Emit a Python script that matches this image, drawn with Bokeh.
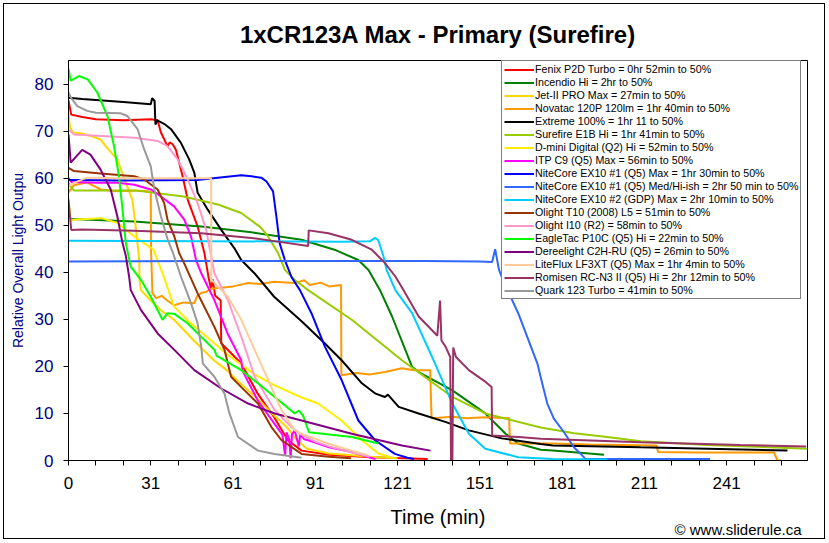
from bokeh.plotting import figure
from bokeh.models import Range1d, FixedTicker, Legend, LegendItem, Title
from bokeh.embed import file_html
from bokeh.resources import INLINE

# ---------------- data (time index in minutes, relative output) ----------------
fenix = [(0, 76.5), (1, 73.5), (5, 73), (10, 72.5), (20, 72.3), (30, 72.5), (32.5, 72.3), (33.7, 69.7),
         (36.1, 66.8), (36.9, 67.6), (38, 67.2), (39.2, 66), (41.6, 60.4), (43.5, 55.4), (47.1, 49.7),
         (49.6, 44), (51.2, 38.5), (52, 36.5), (52.6, 38.5), (53.5, 35), (55.5, 34), (55.7, 24.9),
         (63, 20.6), (69, 14.2), (75, 9.2), (80, 4.3), (85, 2.1), (95, 1.2), (110, 0.7), (131, 0.3)]
incendio = [(0, 52), (1, 51.3), (24, 50.8), (48.4, 49.7), (66.7, 48.5), (85, 46.9), (97, 44.8), (105.7, 42.6),
            (109.4, 40.5), (113.6, 36.2), (118, 30.6), (125.3, 19.9), (127.7, 18.8), (140, 14.9), (152, 10),
            (159.4, 5.7), (164, 3.6), (172.2, 2.3), (176.6, 2.1), (195.3, 1.2)]
jet2 = [(0, 74), (0.5, 71), (1.5, 69.7), (5, 69.5), (8, 69), (11.7, 68.2), (14, 66.5), (17.8, 64), (20, 60.4),
        (23.3, 55.4), (24.5, 49.7), (25.8, 42.6), (25.9, 38.4), (26.4, 36.2), (30, 34), (34, 31.8), (38.5, 29.9),
        (45.7, 25.5), (53, 21.3), (57.9, 19.1), (62.8, 16.3), (68.8, 13.2), (74.9, 9.6), (79.8, 7), (83, 4.5),
        (87, 2.5), (95, 1.5), (110, 0.8), (120, 0.5)]
novatac = [(0, 57), (2, 58.5), (6.8, 59.1), (9, 58.4), (11.7, 57.6), (17.8, 57.2), (24, 57.4), (28.8, 57.2),
           (30, 57), (30.1, 44.8), (30.6, 35.6), (32, 34.5), (34, 35), (36, 34), (38.5, 33), (42, 33.6),
           (45.8, 33.4), (47, 35), (48.4, 35.6), (50, 35.8), (52, 36.5), (55.7, 36.7), (60, 37), (65.5, 37.7),
           (70, 37.5), (75, 38), (82.4, 37.7), (86, 38.3), (88, 37.3), (92, 37.8), (95, 37), (99.4, 37.3),
           (99.5, 18.1), (105, 18.6), (110, 18.3), (115.4, 18.8), (121.6, 19.6), (126, 19.2), (131.9, 19.2),
           (132.4, 9), (140, 9.3), (145, 9), (152, 9.2), (160.7, 9), (161, 3.6), (176.6, 3.6), (190, 3.4),
           (214.5, 3.2), (215, 1.8), (230, 1.7), (257.3, 1.7), (258.5, 0), (260, 0)]
extreme = [(0, 77.1), (5, 76.8), (10, 76.6), (20, 76.2), (30, 75.7), (30.5, 77), (31.4, 76.4), (31.7, 71.4),
           (32.4, 72.3), (35, 71.5), (37.4, 70.4), (41, 67.5), (44, 64), (45.9, 61.1), (47.1, 56.9),
           (50.8, 53.3), (55.7, 49), (60.4, 45.2), (63, 42.6), (67.8, 39.8), (75, 34.8), (85, 29.6),
           (93.4, 24.9), (99.6, 21.3), (107, 16.4), (112, 14.2), (115.4, 13.5), (116.5, 14), (120.4, 11.4),
           (127.7, 10), (137.4, 8.2), (146, 6.4), (158, 4.7), (172.2, 3.5), (176.6, 3.2), (208.7, 2.8),
           (233, 2.5), (262.2, 2.1)]
surefire = [(0, 59), (1, 58), (2, 57.4), (24, 57.4), (42, 56.1), (54.5, 54.4), (63, 52.6), (66.7, 51),
            (70, 49.6), (72.8, 47.6), (76.4, 44.1), (78.9, 40.5), (82.5, 38.4), (87.4, 36.2), (103.3, 29.9),
            (121.6, 21.3), (140, 13.5), (152, 10), (172.2, 7), (184.4, 5.8), (196.5, 5), (208.7, 4.1),
            (233, 3.3), (269.5, 2.5)]
dmini = [(0, 56), (0.7, 51), (3, 51.2), (12, 51.5), (17.8, 50.5), (24, 47.6), (31, 44.8), (34.8, 39),
         (38.5, 32.7), (44, 29.5), (50.6, 26.2), (58, 22.5), (67.6, 18.4), (75, 16), (84.6, 13.5), (91, 12.1),
         (99.6, 8.5), (107, 4.3), (113, 1.5), (118, 0.6)]
itp_c9 = [(0, 60.1), (1, 59.2), (10, 59), (17.8, 59), (24, 58.6), (30, 57.6), (33.7, 56.1), (38.5, 54),
          (42.2, 51.2), (44.7, 47.6), (46.5, 42.6), (48.4, 39.8), (53.2, 34.1), (58, 27), (63, 21.3),
          (63.5, 19), (69, 12.8), (75, 7.9), (78, 5.5), (79, 1), (79.5, 6), (80.5, 4.5), (81, 0.5),
          (81.5, 5.5), (82.5, 6.4), (84, 3), (84.5, 5.5), (86, 4.5), (88, 4.2), (91, 3.6), (95, 2.8),
          (103.3, 1.8), (109, 0.8), (112, 0.3)]
ex10_max = [(0, 59.6), (20, 59.5), (47, 59.6), (54.5, 60.1), (63, 60.6), (66.7, 60.4), (70.3, 60.1),
            (72.2, 59.3), (74.6, 57.2), (75.8, 51.9), (77, 46.2), (78.9, 42.6), (81.3, 39), (84.4, 36.2),
            (88.6, 31.3), (93.5, 24.2), (99.6, 17.1), (105.7, 8.5), (111.8, 4.3), (119, 1.4), (123.6, 0.6),
            (126, 0.3)]
ex10_med = [(0, 42.3), (50, 42.4), (100, 42.4), (130, 42.4), (150, 42.3), (154.5, 42.2), (155.6, 44.9),
            (156.2, 43), (157, 40.5), (158.9, 37.7), (164, 31.3), (171, 20.6), (172.5, 17), (174.6, 12.1),
            (177, 8.9), (180.7, 6), (184.3, 2.8), (186.8, 1.4), (188.6, 0.3), (234, 0.3)]
ex10_gdp = [(0, 46.7), (50, 46.6), (100, 46.5), (110, 46.6), (111.8, 47.3), (113, 46.8), (114.9, 43.3),
            (116, 40.5), (119.2, 36.2), (125.3, 31.3), (132.6, 22), (140, 12.1), (146, 5.7), (152, 2.5),
            (164, 0.7), (176.6, 0.3), (196.5, 0.2)]
olight_t10 = [(0, 62.2), (2, 61.5), (11.7, 61), (24, 60.4), (27.6, 59.7), (32.5, 57.6), (34.9, 54.7),
              (36.1, 51.2), (38.6, 47.6), (40.4, 44), (42.2, 41.9), (47.1, 35.5), (53.2, 28.4), (56.9, 23.5),
              (59.3, 17.8), (63, 15.6), (69.1, 12.1), (74, 7.1), (77.7, 4.3), (85, 1.4), (95, 0.8), (103, 0.5)]
olight_i10 = [(0, 70.4), (2, 69.3), (24, 68.6), (32.5, 67.9), (36.1, 66.8), (39.8, 64), (43.5, 59.7),
              (47.1, 54.7), (50.2, 49), (52, 43.5), (53.2, 39.8), (58.1, 34.1), (63, 26.3), (67.9, 17.8),
              (75.2, 10.7), (81.3, 7.1), (85, 5.5), (90, 4), (95, 3), (100, 2.2), (105, 1.5), (110, 0.8)]
eagletac = [(0, 83.2), (0.8, 80.7), (3.8, 81.7), (7, 81), (10.5, 78.2), (14.2, 73.2), (16.6, 66.8),
            (18.4, 60.4), (19.7, 53.3), (20.9, 46.2), (21.5, 44.5), (22.7, 41.2), (26.4, 38.4), (30, 34.8),
            (34.3, 29.9), (36.1, 31.3), (38.5, 31.2), (43.5, 29.1), (48.4, 26.3), (53.2, 23.5), (54, 22.3),
            (63, 19.2), (69.1, 16.4), (75.2, 13.5), (82.5, 10), (84, 10.6), (85.5, 9.6), (87.7, 6),
            (103.3, 5), (113, 3.6)]
dereelight = [(0, 69.3), (0.8, 63.3), (5, 66), (8, 65), (11.7, 61.8), (15.4, 57.6), (17.8, 51.9),
              (19.7, 46.2), (20.9, 43.5), (22.1, 39.1), (22.7, 36.2), (26.4, 32), (32.5, 27), (38.6, 23.5),
              (45.9, 19.2), (55.7, 15.3), (65.5, 12.1), (75.2, 10), (85, 8.5), (103.3, 5.7), (121.6, 3.2),
              (132, 2.1)]
liteflux = [(0, 58.3), (2, 59), (6.8, 60.1), (20, 60), (40, 60), (52, 60), (52.1, 38.4), (58.1, 34.8),
            (63, 29.9), (67.9, 23.5), (72.8, 17.1), (77.7, 10.7), (82.5, 6.4), (85, 5.7), (95, 3.5),
            (103.3, 2.1), (109, 1.2)]
romisen = [(0, 55.4), (1, 49), (5, 49.1), (24, 48.8), (48.4, 48.3), (66.7, 47.3), (78.9, 46.3), (87.4, 45.6),
           (87.6, 48.9), (94.8, 48.3), (103.3, 46.9), (110.6, 44.8), (115.5, 41.9), (119.2, 39.1),
           (122.2, 36.2), (127.7, 30.6), (134.5, 26.5), (135.5, 34), (136, 25.5), (137.5, 24.2), (139.2, 22),
           (139.5, 0), (140, 0), (140.3, 24), (141.3, 22), (146, 19.2), (152.1, 16.7), (154.3, 15.6),
           (154.5, 5.3), (164.3, 5), (172.2, 4.6), (208.7, 3.9), (245, 3.3), (269, 3)]
quark = [(0, 78.2), (1, 77), (3.2, 75.3), (6.8, 74.3), (10, 73.9), (19, 73.8), (21.5, 73.2), (25.2, 70.4),
         (27.6, 66.1), (30, 62.5), (31.3, 57.6), (33.7, 51.9), (36.2, 46.9), (38, 44.3), (41, 39.1),
         (44.7, 33.4), (47.1, 29.1), (48.4, 24.2), (49, 20.6), (53.2, 17.8), (56.9, 14.2), (58.7, 10),
         (61.8, 5), (69.1, 2.1), (75.2, 1.4), (85, 0.6)]

series_names = [
    "Fenix P2D Turbo = 0hr 52min to 50%",
    "Incendio Hi = 2hr to 50%",
    "Jet-II PRO Max = 27min to 50%",
    "Novatac 120P 120lm = 1hr 40min to 50%",
    "Extreme 100% = 1hr 11 to 50%",
    "Surefire E1B Hi = 1hr 41min to 50%",
    "D-mini Digital (Q2) Hi = 52min to 50%",
    "ITP C9 (Q5) Max = 56min to 50%",
    "NiteCore EX10 #1 (Q5) Max = 1hr 30min to 50%",
    "NiteCore EX10 #1 (Q5) Med/Hi-ish = 2hr 50 min to 50%",
    "NiteCore EX10 #2 (GDP) Max = 2hr 10min to 50%",
    "Olight T10 (2008) L5 = 51min to 50%",
    "Olight I10 (R2) = 58min to 50%",
    "EagleTac P10C (Q5) Hi = 22min to 50%",
    "Dereelight C2H-RU (Q5) = 26min to 50%",
    "LiteFlux LF3XT (Q5) Max = 1hr 4min to 50%",
    "Romisen RC-N3 II (Q5) Hi = 2hr 12min to 50%",
    "Quark 123 Turbo = 41min to 50%",
]
series_data = [fenix, incendio, jet2, novatac, extreme, surefire, dmini, itp_c9, ex10_max, ex10_med,
               ex10_gdp, olight_t10, olight_i10, eagletac, dereelight, liteflux, romisen, quark]
series_colors = ["#FF0000", "#008000", "#FFD700", "#FF9900", "#000000", "#99CC00", "#FFEE00", "#FF00FF",
                 "#0000FF", "#3366FF", "#00CCFF", "#993300", "#FF99CC", "#00FF00", "#800080", "#FFCC99",
                 "#993366", "#999999"]

x_ticks = list(range(0, 261, 10))
x_label_pos = [0, 30, 60, 90, 120, 150, 180, 210, 240]
x_label_text = ["0", "31", "61", "91", "121", "151", "181", "211", "241"]
y_ticks = [0, 10, 20, 30, 40, 50, 60, 70, 80]

FONT = "Liberation Sans"
NAVY = "#000080"

p = figure(width=828, height=542, output_backend="svg", toolbar_location=None, tools="",
           x_range=Range1d(0, 269.5), y_range=Range1d(0, 85),
           min_border_left=68, min_border_right=21, min_border_top=60, min_border_bottom=82)
p.grid.visible = False
p.outline_line_color = "black"
p.outline_line_width = 1
p.background_fill_color = "white"
p.border_fill_color = None
p.styles = {"outline": "1px solid black", "outline-offset": "-4px", "background-color": "white"}

# title
p.title.text = "1xCR123A Max - Primary (Surefire)"
p.title.align = "center"
p.title.text_font = FONT
p.title.text_font_size = "24px"
p.title.text_font_style = "bold"
p.title.text_color = "black"
p.title.standoff = 26

items = []
for name, color, pts in zip(series_names, series_colors, series_data):
    xs = [a for a, b in pts]
    ys = [b for a, b in pts]
    r = p.line(xs, ys, line_color=color, line_width=2)
    items.append(LegendItem(label=name, renderers=[r]))

# axes
xa = p.xaxis[0]
xa.ticker = FixedTicker(ticks=x_ticks)
overrides = {t: "" for t in x_ticks}
for pos, txt in zip(x_label_pos, x_label_text):
    overrides[pos] = txt
xa.major_label_overrides = overrides
xa.major_tick_out = 5
xa.major_tick_in = 0
xa.minor_tick_line_color = None
xa.axis_line_color = "black"
xa.major_tick_line_color = "black"
xa.major_label_text_font = FONT
xa.major_label_text_font_size = "17px"
xa.major_label_text_color = "black"
xa.major_label_standoff = 11
xa.axis_label = "Time (min)"
xa.axis_label_text_font = FONT
xa.axis_label_text_font_size = "20px"
xa.axis_label_text_font_style = "normal"
xa.axis_label_text_color = "black"
xa.axis_label_standoff = 14

ya = p.yaxis[0]
ya.ticker = FixedTicker(ticks=y_ticks)
ya.major_tick_out = 5
ya.major_tick_in = 0
ya.minor_tick_line_color = None
ya.axis_line_color = "black"
ya.major_tick_line_color = "black"
ya.major_label_text_font = FONT
ya.major_label_text_font_size = "17px"
ya.major_label_text_color = NAVY
ya.major_label_standoff = 10
ya.axis_label = "Relative Overall Light Outpu"
ya.axis_label_text_font = FONT
ya.axis_label_text_font_size = "14px"
ya.axis_label_text_font_style = "normal"
ya.axis_label_text_color = NAVY
ya.axis_label_standoff = 6

# copyright note under the x axis, right aligned
credit = Title(text="\u00a9 www.sliderule.ca", align="right", vertical_align="top", offset=6,
               standoff=-20, text_font=FONT, text_font_size="15px", text_font_style="normal",
               text_color="black")
p.add_layout(credit, "below")

legend = Legend(items=items, location=(433, 161), margin=0, padding=2, spacing=1,
                glyph_width=30, glyph_height=11, label_height=11, label_standoff=1,
                label_text_font=FONT, label_text_font_size="10.7px", label_text_color="black",
                border_line_color="black", border_line_width=1,
                background_fill_color="white", background_fill_alpha=1.0)
p.add_layout(legend)

open("out.html", "w").write(file_html(p, INLINE))
